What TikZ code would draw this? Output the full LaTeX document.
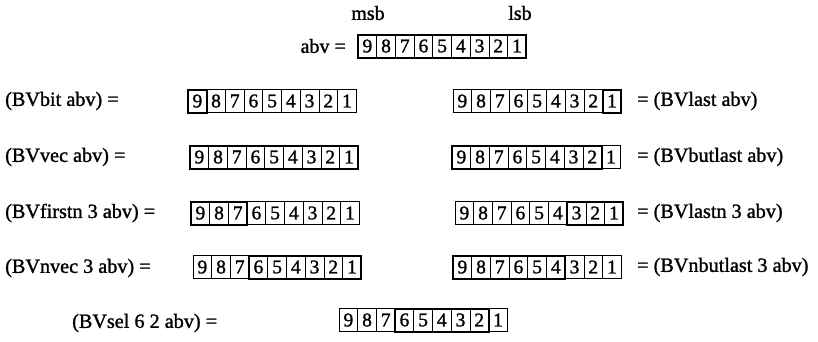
\documentclass[tikz,border=0pt]{standalone}
\usepackage{fontspec}
\setmainfont[FakeBold=1.3]{Liberation Serif}
\tikzset{
  cell/.style={draw, line width=0.7pt, minimum width=18.7pt, minimum height=23pt, inner sep=0pt, outer sep=0pt, font=\fontsize{19.5}{20}\selectfont},
  sel/.style={line width=2pt},
  lbl/.style={anchor=west, inner sep=0pt, font=\fontsize{20.2}{22}\selectfont},
  hdr/.style={inner sep=0pt, font=\fontsize{20}{22}\selectfont}
}
\newcommand\bvec[5]{%
  \foreach \d [count=\i from 0] in {9,...,1} {
    \node[cell] (#1-\d) at ({#2+\i*18.7+9.35},#3) {\d};
  }
  \draw[sel] (#1-#4.north west) rectangle (#1-#5.south east);
}
\begin{document}
\begin{tikzpicture}[x=1pt,y=-1pt]
\useasboundingbox (0,0) rectangle (818,341);
\node[hdr] (msb) at (368,13) {msb};
\node[hdr] (lsb) at (520,13) {lsb};
\node[hdr, anchor=east] (abvl) at (346,46) {abv =};
\bvec{abv}{358}{46}{9}{1}

\node[lbl] (l1) at (5,101) {(BVbit abv) =};
\bvec{bit}{188}{101}{9}{9}
\bvec{last}{453}{101}{1}{1}
\node[lbl] (r1) at (637,101) {= (BVlast abv)};

\node[lbl] (l2) at (5,157) {(BVvec abv) =};
\bvec{vec}{190}{157}{9}{1}
\bvec{butlast}{452}{157}{9}{2}
\node[lbl] (r2) at (637,157) {= (BVbutlast abv)};

\node[lbl] (l3) at (5,213) {(BVfirstn 3 abv) =};
\bvec{firstn}{191}{213}{9}{7}
\bvec{lastn}{455}{213}{3}{1}
\node[lbl] (r3) at (637,213) {= (BVlastn 3 abv)};

\node[lbl] (l4) at (5,268) {(BVnvec 3 abv) =};
\bvec{nvec}{193}{267}{6}{1}
\bvec{nbutlast}{453}{267}{9}{4}
\node[lbl] (r4) at (637,267) {= (BVnbutlast 3 abv)};

\node[lbl] (l5) at (72,323) {(BVsel 6 2 abv) =};
\bvec{sel}{339}{320}{6}{2}
\end{tikzpicture}
\end{document}
